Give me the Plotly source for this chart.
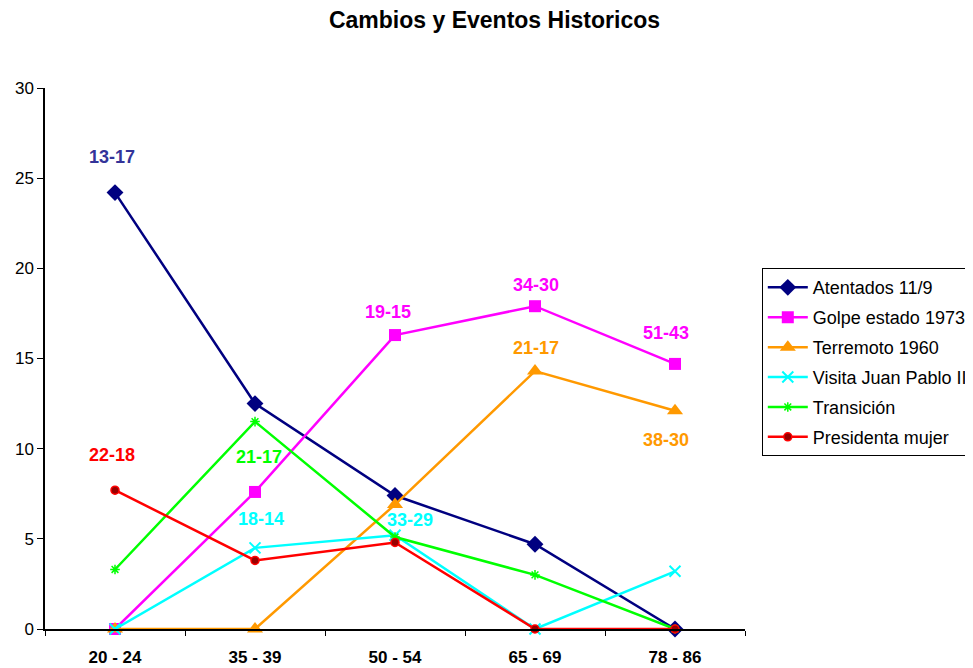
import plotly.graph_objects as go

categories = ["20 - 24", "35 - 39", "50 - 54", "65 - 69", "78 - 86"]
atentados = [24.2, 12.5, 7.4, 4.7, 0]
golpe = [0, 7.6, 16.3, 17.9, 14.7]
terremoto = [0, 0, 6.9, 14.3, 12.1]
visita = [0, 4.5, 5.2, 0, 3.2]
transicion = [3.3, 11.5, 5.1, 3.0, 0]
presidenta = [7.7, 3.8, 4.8, 0, 0]

# label text, category, y value, color, x shift (px)
labels = [
    ("13-17", "20 - 24", 26.2, "#333399", -3),
    ("19-15", "50 - 54", 17.6, "#FF00FF", -7),
    ("34-30", "65 - 69", 19.1, "#FF00FF", 1),
    ("51-43", "78 - 86", 16.4, "#FF00FF", -9),
    ("21-17", "65 - 69", 15.6, "#FF9900", 1),
    ("38-30", "78 - 86", 10.5, "#FF9900", -9),
    ("22-18", "20 - 24", 9.65, "#FF0000", -3),
    ("21-17", "35 - 39", 9.55, "#00FF00", 4),
    ("18-14", "35 - 39", 6.1, "#00FFFF", 6),
    ("33-29", "50 - 54", 6.05, "#00FFFF", 15),
]

series = [
    ("Atentados 11/9", atentados, "#000080", dict(symbol="diamond", size=13, color="#000080")),
    ("Golpe estado 1973", golpe, "#FF00FF", dict(symbol="square", size=12, color="#FF00FF")),
    ("Terremoto 1960", terremoto, "#FF9900", dict(symbol="triangle-up", size=14, color="#FF9900")),
    ("Visita Juan Pablo II", visita, "#00FFFF", dict(symbol="x-thin-open", size=11, color="#00FFFF", line=dict(width=2, color="#00FFFF"))),
    ("Transición", transicion, "#00FF00", dict(symbol="asterisk-open", size=8, color="#00FF00", line=dict(width=1.5, color="#00FF00"))),
    ("Presidenta mujer", presidenta, "#FF0000", dict(symbol="circle", size=8, color="#990000", line=dict(width=1.5, color="#FF0000"))),
]

fig = go.Figure()
for i, (name, vals, col, mk) in enumerate(series):
    fig.add_trace(go.Scatter(
        x=categories, y=vals, name=name, mode="lines+markers",
        line=dict(color=col, width=2.5), marker=mk,
        legendgroup=f"g{i}", cliponaxis=False,
    ))

for text, cat, yv, col, xs in labels:
    fig.add_annotation(x=cat, y=yv, text=f"<b>{text}</b>", showarrow=False,
                       font=dict(color=col, size=18, family="Liberation Sans, Arial"),
                       xshift=xs)

fig.update_layout(
    width=973, height=668,
    paper_bgcolor="white", plot_bgcolor="white",
    font=dict(family="Liberation Sans, Arial", color="black", size=14),
    title=dict(text="<b>Cambios y Eventos Historicos</b>", x=0.5, xanchor="center",
               y=0.982, yanchor="middle", font=dict(size=23)),
    margin=dict(l=37, r=236, t=80, b=47, autoexpand=False),
    showlegend=True,
    legend=dict(x=1.024, xanchor="left", y=0.667, yanchor="top",
                bordercolor="black", borderwidth=1, bgcolor="white",
                font=dict(size=18), tracegroupgap=3.5, itemwidth=40),
)
fig.update_xaxes(type="category", tickson="boundaries", ticks="outside", ticklen=5,
                 tickcolor="black", showline=True, linecolor="black", linewidth=1.5,
                 showgrid=False, zeroline=False, range=[-0.5, 4.5],
                 tickfont=dict(size=17, family="Liberation Sans, Arial"),
                 ticklabelstandoff=12,
                 ticktext=[f"<b>{c}</b>" for c in categories], tickvals=categories)
fig.update_yaxes(range=[0, 30], dtick=5, ticks="outside", ticklen=6, tickcolor="black",
                 showline=True, linecolor="black", linewidth=1.5, showgrid=False,
                 zeroline=False, tickfont=dict(size=17))

fig.write_html("out.html")
